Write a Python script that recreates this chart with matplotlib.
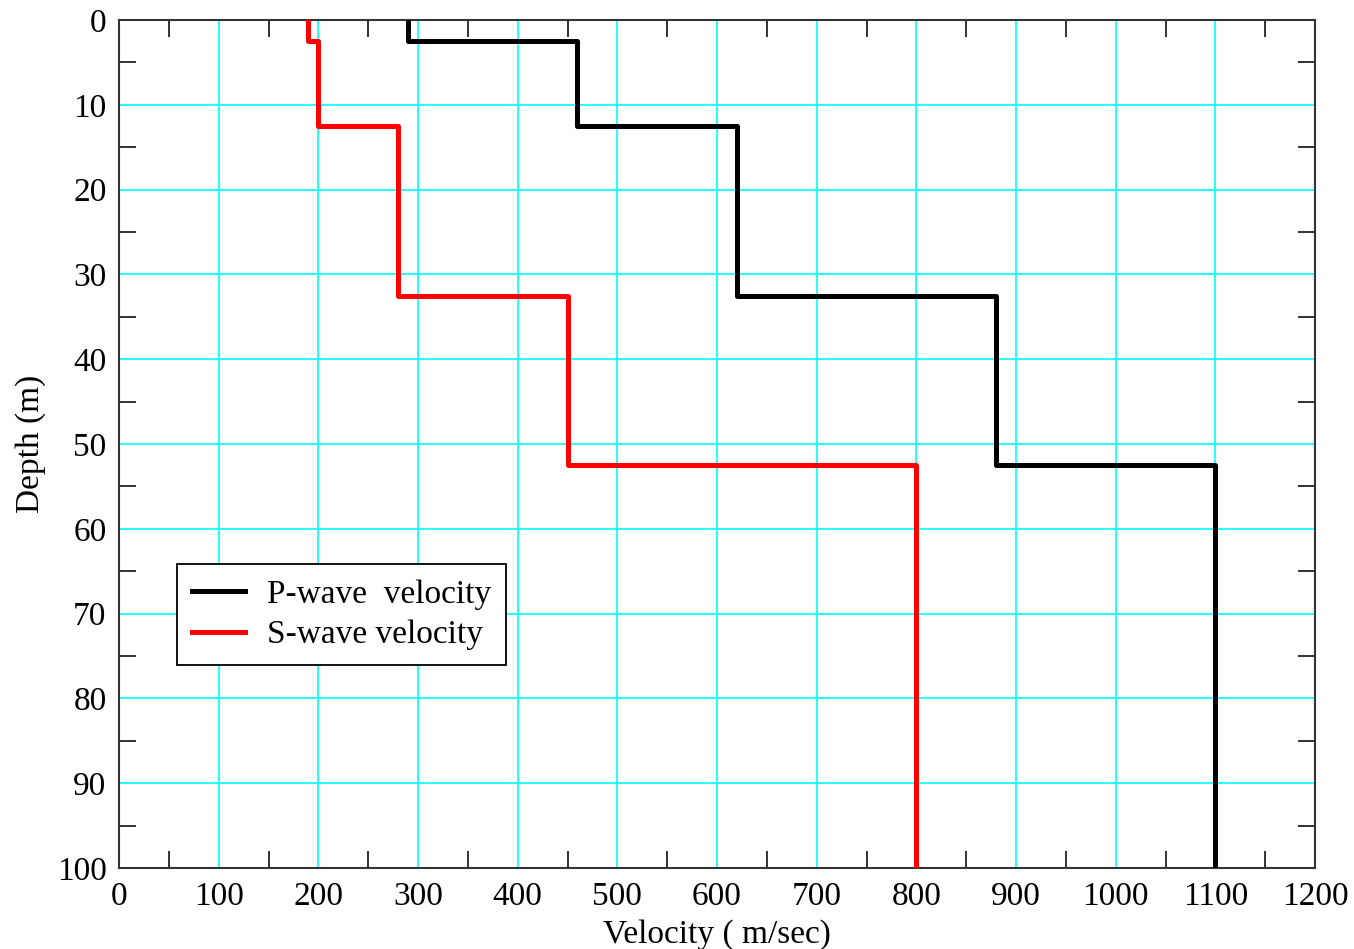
import numpy as np
import matplotlib.pyplot as plt
from matplotlib.ticker import MultipleLocator

plt.rcParams['font.family'] = ['Liberation Serif', 'DejaVu Serif']

# layer boundaries (m) and velocities (m/sec) of each layer
depthTop = [0, 2.5, 12.5, 32.5, 52.5]
depthBottom = [2.5, 12.5, 32.5, 52.5, 100]
pVelocity = [290, 460, 620, 880, 1100]
sVelocity = [190, 200, 280, 450, 800]

def stepProfile(vel):
    xs, ys = [], []
    for v, top, bot in zip(vel, depthTop, depthBottom):
        xs += [v, v]
        ys += [top, bot]
    return xs, ys

fig = plt.figure(figsize=(13.54, 9.49), dpi=100)
ax = fig.add_axes([0.0879, 0.0854, 0.8833, 0.8935])

px, py = stepProfile(pVelocity)
sx, sy = stepProfile(sVelocity)
ax.plot(px, py, color='black', lw=3.6, label='P-wave  velocity', zorder=3)
ax.plot(sx, sy, color='red', lw=3.6, label='S-wave velocity', zorder=3)

ax.set_xlim(0, 1200)
ax.set_ylim(100, 0)
ax.xaxis.set_major_locator(MultipleLocator(100))
ax.xaxis.set_minor_locator(MultipleLocator(50))
ax.yaxis.set_major_locator(MultipleLocator(10))
ax.yaxis.set_minor_locator(MultipleLocator(5))
ax.grid(True, which='major', color='#00ffff', lw=1.2, zorder=1)
ax.set_axisbelow(True)

# major ticks sit under the grid lines, only the minor ones show
ax.tick_params(which='both', direction='in', top=True, right=True,
               labelsize=24, width=1.3, color='#222222')
ax.tick_params(which='major', length=0, pad=10)
ax.tick_params(which='minor', length=12)
ax.tick_params(axis='y', which='major', pad=9)
for s in ax.spines.values():
    s.set_linewidth(1.5)
    s.set_color('#333333')

ax.set_xlabel('Velocity ( m/sec)', fontsize=24, labelpad=5)
ax.set_ylabel('Depth (m)', fontsize=24, labelpad=8)

leg = ax.legend(loc='lower left', bbox_to_anchor=(0.0485, 0.239), fontsize=24,
                fancybox=False, framealpha=1, edgecolor='black',
                handlelength=1.6, handletextpad=0.65, borderpad=0.45,
                labelspacing=0.3, borderaxespad=0)
leg.get_frame().set_linewidth(1.3)
for line in leg.get_lines():
    line.set_linewidth(3.6)

fig.savefig('out.png', dpi=100)
